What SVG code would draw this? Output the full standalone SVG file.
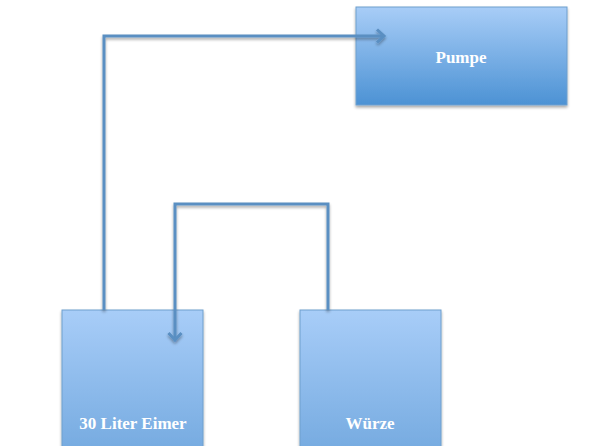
<svg xmlns="http://www.w3.org/2000/svg" width="590" height="446" viewBox="0 0 590 446">
<defs>
<linearGradient id="g1" x1="0" y1="0" x2="0" y2="1">
<stop offset="0" stop-color="#a8cdf7"/>
<stop offset="1" stop-color="#4c92d4"/>
</linearGradient>
<linearGradient id="g2" x1="0" y1="0" x2="0" y2="1">
<stop offset="0" stop-color="#a8cdf8"/>
<stop offset="1" stop-color="#6fa6dd"/>
</linearGradient>
<filter id="sh" x="-10%" y="-10%" width="120%" height="130%">
<feGaussianBlur in="SourceAlpha" stdDeviation="1.5"/>
<feOffset dx="0" dy="2" result="b"/>
<feComponentTransfer><feFuncA type="linear" slope="0.35"/></feComponentTransfer>
<feMerge><feMergeNode/><feMergeNode in="SourceGraphic"/></feMerge>
</filter>
<marker id="arr" markerWidth="14" markerHeight="16" refX="9" refY="8" orient="auto" markerUnits="userSpaceOnUse" viewBox="0 0 14 16">
<path d="M2,1.5 L9,8 L2,14.5" fill="none" stroke="#5a8fc2" stroke-width="3"/>
</marker>
</defs>
<style>
.box{stroke:#6e9fce;stroke-width:1;filter:url(#sh)}
.lbl{font-family:"Liberation Serif","DejaVu Serif",serif;font-size:17px;font-weight:bold;fill:#ffffff;text-anchor:middle}
.c{fill:none;stroke:#5a8fc2;stroke-width:3;filter:url(#sh)}
</style>
<rect width="590" height="446" fill="#ffffff"/>
<g id="pumpe">
<rect class="box" x="356" y="7" width="211" height="98" fill="url(#g1)"/>
<text class="lbl" x="461" y="63">Pumpe</text>
</g>
<g id="eimer">
<rect class="box" x="62" y="310" width="141" height="160" fill="url(#g2)"/>
<text class="lbl" x="133" y="429">30 Liter Eimer</text>
</g>
<g id="wuerze">
<rect class="box" x="300" y="310" width="141" height="160" fill="url(#g2)"/>
<text class="lbl" x="370" y="429">Würze</text>
</g>
<g id="connectors">
<path class="c" d="M104,310 L104,36 L384,36" marker-end="url(#arr)"/>
<path class="c" d="M328,310 L328,204 L175,204 L175,340" marker-end="url(#arr)"/>
<path class="c" d="M412,105 L412,340" marker-end="url(#arr)"/>
</g>
</svg>
